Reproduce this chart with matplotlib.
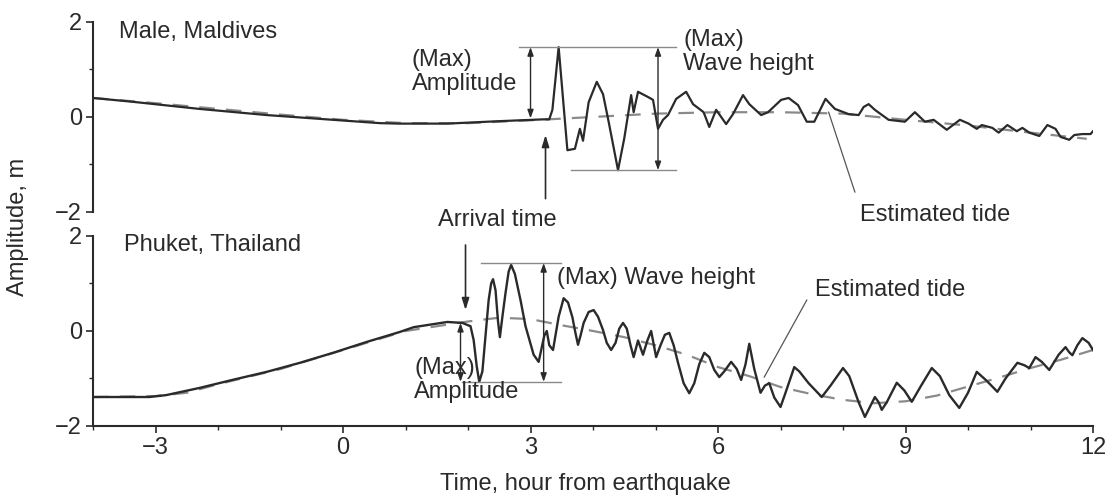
#! /usr/bin/env python3
# Tsunami tide-gauge records: Male (Maldives) and Phuket (Thailand)

import matplotlib.pyplot as plt
import numpy as np

plt.rcParams['font.family'] = ['Liberation Sans', 'DejaVu Sans']

# Male, Maldives - observed sea level (hours, m)
male_t = [-4.0, -3.37, -2.3, -1.22, -0.16, 0.59, 0.91, 1.67, 2.47, 3.21, 3.3, 3.35,
          3.45, 3.59, 3.71, 3.79, 3.84, 3.93, 4.06, 4.16, 4.25, 4.4, 4.5, 4.61,
          4.65, 4.72, 4.88, 4.96, 5.04, 5.12, 5.2, 5.33, 5.49, 5.6, 5.77, 5.86,
          5.97, 6.13, 6.24, 6.4, 6.5, 6.69, 6.8, 7.01, 7.13, 7.28, 7.42, 7.54,
          7.72, 7.87, 8.09, 8.25, 8.33, 8.41, 8.51, 8.73, 8.99, 9.15, 9.31, 9.45,
          9.66, 9.87, 10.01, 10.14, 10.22, 10.39, 10.49, 10.63, 10.78, 10.87, 10.98,
          11.14, 11.27, 11.4, 11.48, 11.62, 11.7, 11.83, 11.96, 12.0]
male_obs = [0.4, 0.32, 0.17, 0.04, -0.06, -0.13, -0.14, -0.14, -0.09, -0.05, -0.05, 0.15,
            1.47, -0.7, -0.67, -0.25, -0.5, 0.31, 0.74, 0.48, -0.1, -1.12, -0.45, 0.46,
            0.1, 0.53, 0.42, 0.36, -0.25, -0.06, 0.04, 0.38, 0.53, 0.27, 0.1, -0.21,
            0.15, -0.15, 0.06, 0.46, 0.27, 0.04, 0.1, 0.36, 0.4, 0.25, -0.1, -0.1,
            0.38, 0.17, 0.06, 0.04, 0.21, 0.27, 0.15, -0.06, -0.1, 0.1, -0.1, -0.06,
            -0.27, -0.06, -0.14, -0.25, -0.17, -0.23, -0.33, -0.17, -0.3, -0.23, -0.33,
            -0.4, -0.17, -0.25, -0.42, -0.48, -0.38, -0.36, -0.36, -0.3]

# Male - estimated tide
male_tide_t = [-4, -3, -2, -1, 0, 1, 2, 3, 4, 5, 6, 7, 8, 9, 10, 11, 11.9]
male_tide = [0.4, 0.29, 0.17, 0.05, -0.06, -0.13, -0.13, -0.07, 0.0, 0.07,
             0.1, 0.1, 0.07, -0.06, -0.18, -0.33, -0.46]

# Phuket, Thailand - observed sea level
phuket_t = [-4.0, -3.1, -2.83, -2.3, -1.77, -1.22, -0.69, -0.16, 0.38, 0.91, 1.13, 1.67,
            1.91, 2.04, 2.09, 2.14, 2.18, 2.23, 2.28, 2.33, 2.37, 2.4, 2.44, 2.48,
            2.51, 2.55, 2.6, 2.65, 2.69, 2.75, 2.84, 2.92, 2.97, 3.05, 3.13, 3.22,
            3.26, 3.3, 3.36, 3.45, 3.53, 3.6, 3.67, 3.72, 3.76, 3.8, 3.85, 3.93,
            4.01, 4.08, 4.16, 4.22, 4.29, 4.36, 4.42, 4.48, 4.54, 4.6, 4.65, 4.72,
            4.8, 4.87, 4.93, 5.01, 5.08, 5.15, 5.22, 5.29, 5.36, 5.45, 5.54, 5.62,
            5.7, 5.78, 5.86, 5.94, 6.02, 6.1, 6.21, 6.3, 6.37, 6.44, 6.5, 6.58,
            6.68, 6.75, 6.82, 6.9, 7.0, 7.08, 7.22, 7.3, 7.45, 7.66, 7.8, 8.0,
            8.1, 8.25, 8.35, 8.43, 8.51, 8.57, 8.62, 8.7, 8.86, 8.98, 9.1, 9.25,
            9.42, 9.55, 9.7, 9.86, 10.0, 10.14, 10.3, 10.47, 10.6, 10.79, 10.9,
            10.98, 11.08, 11.18, 11.3, 11.45, 11.56, 11.62, 11.67, 11.75, 11.83,
            11.93, 12.0]
phuket_obs = [-1.39, -1.39, -1.35, -1.2, -1.03, -0.86, -0.67, -0.46, -0.23, -0.02, 0.08, 0.19,
              0.17, 0.1, -0.19, -0.75, -1.07, -0.85, -0.1, 0.65, 1.0, 1.09, 0.86, 0.2,
              -0.13, 0.3, 0.8, 1.25, 1.39, 1.2, 0.65, 0.1, -0.13, -0.5, -0.65, -0.1,
              0.0, -0.3, -0.4, 0.3, 0.69, 0.6, 0.29, -0.05, -0.29, -0.1, 0.17, 0.4,
              0.44, 0.3, 0.02, -0.25, -0.4, -0.25, 0.05, 0.17, 0.05, -0.3, -0.55, -0.2,
              -0.5, -0.2, 0.0, -0.55, -0.3, -0.08, -0.04, -0.3, -0.67, -1.1, -1.31, -1.1,
              -0.7, -0.46, -0.55, -0.82, -0.97, -0.85, -0.65, -0.8, -1.03, -0.7, -0.27, -0.8,
              -1.3, -1.15, -1.1, -1.4, -1.6, -1.3, -0.76, -0.85, -1.1, -1.39, -1.15, -0.78,
              -0.95, -1.5, -1.81, -1.6, -1.39, -1.5, -1.66, -1.5, -1.09, -1.25, -1.49, -1.15,
              -0.78, -0.95, -1.35, -1.62, -1.3, -0.86, -1.05, -1.28, -1.0, -0.67, -0.72,
              -0.78, -0.55, -0.65, -0.82, -0.5, -0.34, -0.45, -0.51, -0.3, -0.15,
              -0.25, -0.4]

# Phuket - estimated tide
phuket_tide_t = [-4, -3, -2.5, -2, -1, 0, 1, 2, 2.5, 3, 3.5, 4, 4.5, 5, 5.5, 6, 6.5,
                 7, 7.5, 8, 8.5, 9, 9.5, 10, 10.5, 11, 11.5, 12]
phuket_tide = [-1.39, -1.37, -1.3, -1.12, -0.8, -0.4, 0.0, 0.2, 0.28, 0.25, 0.12, 0.0,
               -0.13, -0.3, -0.5, -0.76, -0.95, -1.18, -1.33, -1.45, -1.52, -1.48,
               -1.36, -1.17, -0.98, -0.78, -0.6, -0.4]

ink = '#2a2a2a'
grey = '#8a8a8a'
fs = 17

fig = plt.figure(figsize=(11.1, 4.99), dpi=100)
ax1 = fig.add_axes([0.0838, 0.5752, 0.9009, 0.3808])
ax2 = fig.add_axes([0.0838, 0.1463, 0.9009, 0.3808])

for ax in (ax1, ax2):
    ax.set_xlim(-4, 12)
    ax.set_ylim(-2, 2)
    ax.set_yticks([-2, 0, 2])
    ax.set_yticks([-1, 1], minor=True)
    ax.set_xticks([-3, 0, 3, 6, 9, 12])
    ax.set_xticks(np.arange(-4, 13), minor=True)
    ax.set_yticklabels(['\u22122', '0', '2'])
    ax.spines['top'].set_visible(False)
    ax.spines['right'].set_visible(False)
    ax.spines['left'].set_color(ink)
    ax.spines['left'].set_linewidth(1.5)
    ax.spines['bottom'].set_color(ink)
    ax.spines['bottom'].set_linewidth(1.5)
    ax.tick_params(which='major', length=5, width=1.2, color=ink, labelsize=fs,
                   labelcolor=ink, pad=3)
    ax.tick_params(which='minor', length=3, width=1.0, color=ink)

ax1.spines['bottom'].set_visible(False)
ax1.tick_params(axis='x', which='both', bottom=False, labelbottom=False)
ax2.set_xticklabels(['\u22123', '0', '3', '6', '9', '12'])

# curves
ax1.plot(male_tide_t, male_tide, color=grey, lw=1.6, dashes=(7, 5))
ax1.plot(male_t, male_obs, color=ink, lw=1.6, solid_joinstyle='round')
ax2.plot(phuket_tide_t, phuket_tide, color=grey, lw=1.6, dashes=(7, 5))
ax2.plot(phuket_t, phuket_obs, color=ink, lw=1.7, solid_joinstyle='round')

dbl = dict(arrowstyle='<|-|>,head_length=0.5,head_width=0.18', color=ink, lw=1.0,
           shrinkA=0, shrinkB=0)
one = dict(arrowstyle='-|>,head_length=0.7,head_width=0.22', color=ink, lw=1.2,
           shrinkA=0, shrinkB=0)
gl = dict(color=grey, lw=1.0)

# --- top panel annotations
ax1.text(-3.58, 1.79, 'Male, Maldives', fontsize=fs, color=ink, va='center')
ax1.plot([2.81, 5.33], [1.47, 1.47], **gl)
ax1.plot([3.64, 5.33], [-1.12, -1.12], **gl)
ax1.annotate('', xy=(3.0, 1.47), xytext=(3.0, -0.03), arrowprops=dbl)
ax1.annotate('', xy=(5.04, 1.47), xytext=(5.04, -1.12), arrowprops=dbl)
ax1.text(1.1, 0.95, '(Max)\nAmplitude', fontsize=fs, color=ink, va='center',
         linespacing=1.15)
ax1.text(5.44, 1.37, '(Max)\nWave height', fontsize=fs, color=ink, va='center',
         linespacing=1.15)
ax1.annotate('', xy=(3.24, -0.38), xytext=(3.24, -1.72), arrowprops=one,
             annotation_clip=False)
ax1.text(2.47, -2.17, 'Arrival time', fontsize=fs, color=ink, ha='center',
         va='center', clip_on=False)
ax1.plot([8.19, 7.77], [-1.58, 0.1], color='#555555', lw=0.9, clip_on=False)
ax1.text(9.47, -2.07, 'Estimated tide', fontsize=fs, color=ink, ha='center',
         va='center', clip_on=False)

# --- bottom panel annotations
ax2.text(-3.5, 1.81, 'Phuket, Thailand', fontsize=fs, color=ink, va='center')
ax2.annotate('', xy=(1.96, 0.44), xytext=(1.96, 1.81), arrowprops=one,
             annotation_clip=False)
ax2.plot([2.2, 3.48], [1.43, 1.43], **gl)
ax2.plot([1.9, 3.48], [-1.07, -1.07], **gl)
ax2.annotate('', xy=(1.88, 0.17), xytext=(1.88, -1.07), arrowprops=dbl)
ax2.annotate('', xy=(3.21, 1.43), xytext=(3.21, -1.07), arrowprops=dbl)
ax2.text(3.43, 1.12, '(Max) Wave height', fontsize=fs, color=ink, va='center')
ax2.text(1.14, -1.03, '(Max)\nAmplitude', fontsize=fs, color=ink, va='center',
         linespacing=1.15)
ax2.plot([7.42, 6.74], [0.65, -0.97], color='#555555', lw=0.9)
ax2.text(7.55, 0.86, 'Estimated tide', fontsize=fs, color=ink, va='center')

ax2.set_xlabel('Time, hour from earthquake', fontsize=fs, color=ink)
ax2.xaxis.set_label_coords(0.492, -0.245)
fig.text(0.016, 0.545, 'Amplitude, m', rotation=90, fontsize=fs, color=ink,
         ha='center', va='center')

fig.savefig('out.png', dpi=100)
